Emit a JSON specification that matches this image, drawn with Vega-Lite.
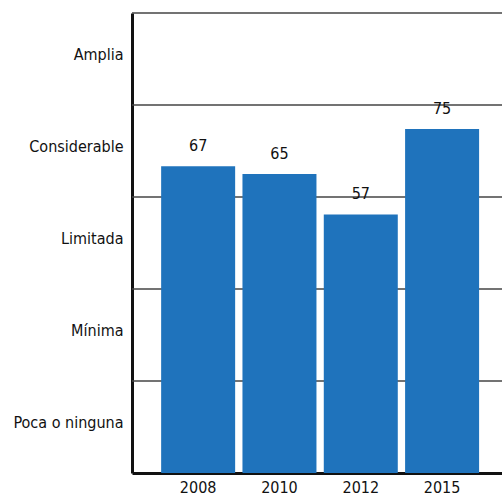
{
  "$schema": "https://vega.github.io/schema/vega-lite/v6.json",
  "width": 370,
  "height": 460,
  "autosize": {"type": "none"},
  "padding": {"left": 132, "top": 13, "right": 0, "bottom": 23},
  "config": {
    "view": {"stroke": null},
    "font": "DejaVu Sans Condensed, Roboto, sans-serif",
    "axis": {"labelFont": "DejaVu Sans Condensed, Roboto, sans-serif", "labelFontSize": 16, "labelColor": "#111"}
  },
  "layer": [
    {
      "data": {"values": [{"nivel": 20}, {"nivel": 40}, {"nivel": 60}, {"nivel": 80}, {"nivel": 100}]},
      "mark": {"type": "rule", "color": "#444", "strokeWidth": 1.5},
      "encoding": {
        "y": {"field": "nivel", "type": "quantitative", "scale": {"domain": [0, 100]}}
      }
    },
    {
      "data": {"values": [
        {"anio": "2008", "valor": 66.7, "etiqueta": "67"},
        {"anio": "2010", "valor": 65.0, "etiqueta": "65"},
        {"anio": "2012", "valor": 56.2, "etiqueta": "57"},
        {"anio": "2015", "valor": 74.8, "etiqueta": "75"}
      ]},
      "encoding": {
        "x": {
          "field": "anio", "type": "nominal", "sort": null,
          "scale": {"paddingInner": 0.09, "paddingOuter": 0.32, "align": 0.56},
          "axis": {"title": null, "labelAngle": 0, "ticks": false, "labelPadding": 6, "domainColor": "#111", "domainWidth": 3}
        },
        "y": {
          "field": "valor", "type": "quantitative",
          "scale": {"domain": [0, 100]},
          "axis": {
            "title": null, "values": [10, 30, 50, 70, 90], "ticks": false, "grid": false,
            "labelPadding": 9, "labelOffset": -5, "domainColor": "#111", "domainWidth": 3,
            "labelExpr": "datum.value == 10 ? 'Poca o ninguna' : datum.value == 30 ? 'Mínima' : datum.value == 50 ? 'Limitada' : datum.value == 70 ? 'Considerable' : 'Amplia'"
          }
        }
      },
      "layer": [
        {"mark": {"type": "bar", "color": "#1f73bc"}},
        {
          "mark": {"type": "text", "baseline": "bottom", "dy": -12, "fontSize": 16, "font": "DejaVu Sans Condensed, Roboto, sans-serif", "color": "#111"},
          "encoding": {"text": {"field": "etiqueta"}}
        }
      ]
    }
  ]
}
